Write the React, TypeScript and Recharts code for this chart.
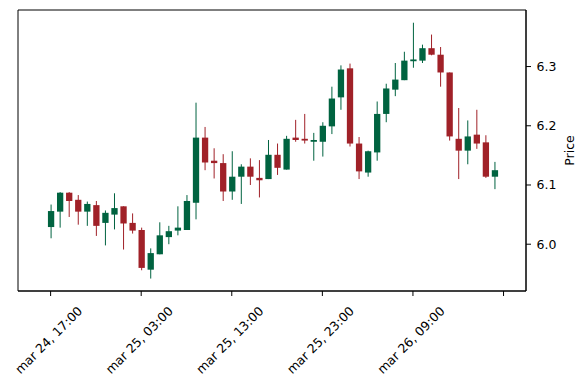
import React from 'react';
import { ComposedChart, Bar, XAxis, YAxis, ReferenceArea } from 'recharts';

// hourly candles, starting mar 24 17:00
const opens = [
  6.029, 6.055, 6.087, 6.075, 6.055, 6.066, 6.036, 6.050, 6.064, 6.036,
  6.024, 5.957, 5.983, 6.012, 6.023, 6.024, 6.070, 6.180, 6.141, 6.137,
  6.089, 6.114, 6.131, 6.112, 6.110, 6.151, 6.126, 6.180, 6.178, 6.173,
  6.173, 6.199, 6.248, 6.297, 6.170, 6.121, 6.155, 6.220, 6.261, 6.277,
  6.309, 6.310, 6.331, 6.320, 6.290, 6.178, 6.158, 6.185, 6.172, 6.114,
];
const highs = [
  6.067, 6.088, 6.088, 6.083, 6.072, 6.073, 6.057, 6.086, 6.064, 6.052,
  6.028, 5.993, 6.037, 6.031, 6.064, 6.083, 6.239, 6.198, 6.162, 6.152,
  6.157, 6.135, 6.145, 6.142, 6.176, 6.170, 6.183, 6.210, 6.220, 6.188,
  6.206, 6.266, 6.302, 6.305, 6.181, 6.158, 6.241, 6.271, 6.306, 6.325,
  6.374, 6.337, 6.354, 6.333, 6.290, 6.230, 6.209, 6.227, 6.184, 6.139,
];
const lows = [
  6.010, 6.028, 6.046, 6.033, 6.031, 6.014, 5.998, 6.025, 5.991, 6.018,
  5.956, 5.942, 5.983, 6.000, 6.015, 6.024, 6.042, 6.125, 6.111, 6.073,
  6.075, 6.068, 6.100, 6.079, 6.110, 6.117, 6.126, 6.173, 6.170, 6.141,
  6.148, 6.186, 6.227, 6.165, 6.110, 6.114, 6.141, 6.206, 6.250, 6.277,
  6.298, 6.306, 6.319, 6.266, 6.175, 6.110, 6.135, 6.161, 6.112, 6.093,
];
const closes = [
  6.056, 6.087, 6.073, 6.055, 6.068, 6.031, 6.053, 6.061, 6.035, 6.023,
  5.960, 5.985, 6.015, 6.022, 6.028, 6.073, 6.180, 6.138, 6.137, 6.089,
  6.114, 6.131, 6.114, 6.108, 6.151, 6.129, 6.178, 6.176, 6.175, 6.176,
  6.200, 6.246, 6.295, 6.170, 6.123, 6.157, 6.220, 6.263, 6.278, 6.310,
  6.312, 6.331, 6.320, 6.290, 6.182, 6.158, 6.182, 6.170, 6.114, 6.125,
];

const tickIndexes = [0, 10, 20, 30, 40, 50];
const tickLabels = ['mar 24, 17:00', 'mar 25, 03:00', 'mar 25, 13:00', 'mar 25, 23:00', 'mar 26, 09:00', ''];
const priceTicks = [6.0, 6.1, 6.2, 6.3];

const UP = '#006340';
const DOWN = '#A02128';
const FONT = '"DejaVu Sans", sans-serif';

const data = opens.map((o, i) => ({
  idx: i,
  open: o,
  high: highs[i],
  low: lows[i],
  close: closes[i],
}));

const Candle = (props: any) => {
  const { x, y, width, height, payload } = props;
  const { open, close, high, low } = payload;
  const top = Math.min(y, y + height);
  const h = Math.abs(height);
  const k = h / (high - low);
  const py = (p: number) => top + (high - p) * k;
  const color = close >= open ? UP : DOWN;
  const cx = x + width / 2;
  const bTop = py(Math.max(open, close));
  const bBot = py(Math.min(open, close));
  return (
    <g>
      <line x1={cx} x2={cx} y1={top} y2={top + h} stroke={color} strokeWidth={1} />
      <rect x={cx - 3.15} y={bTop} width={6.3} height={Math.max(bBot - bTop, 1)} fill={color} />
    </g>
  );
};

const XTick = (props: any) => {
  const { x, y, payload } = props;
  const label = tickLabels[tickIndexes.indexOf(payload.value)];
  if (!label) return null;
  const cx = x - 2;
  const cy = y + 42;
  return (
    <text
      x={cx}
      y={cy}
      transform={`rotate(-45 ${cx} ${cy})`}
      textAnchor="middle"
      dominantBaseline="central"
      fill="#000"
      fontSize={12.5}
      fontFamily={FONT}
    >
      {label}
    </text>
  );
};

const PriceLabel = (props: any) => {
  const { viewBox } = props;
  const cx = viewBox.x + 43.5;
  const cy = viewBox.y + viewBox.height / 2;
  return (
    <text
      x={cx}
      y={cy}
      transform={`rotate(-90 ${cx} ${cy})`}
      textAnchor="middle"
      dominantBaseline="central"
      fill="#000"
      fontSize={12.5}
      fontFamily={FONT}
    >
      Price
    </text>
  );
};

export default function App() {
  return (
    <div style={{ position: 'absolute', left: 0, top: 0, width: 587, height: 390, background: '#fff' }}>
      <ComposedChart
        width={587}
        height={390}
        data={data}
        margin={{ top: 10, right: 16, left: 18, bottom: 10 }}
      >
        <XAxis
          dataKey="idx"
          type="number"
          domain={[-3.6, 52.48]}
          ticks={tickIndexes}
          allowDataOverflow
          interval={0}
          height={89}
          tick={<XTick />}
          tickSize={5}
          axisLine={{ stroke: '#000' }}
          tickLine={{ stroke: '#000' }}
        />
        <YAxis
          orientation="right"
          type="number"
          domain={[5.921, 6.3955]}
          ticks={priceTicks}
          allowDataOverflow
          width={45}
          tickSize={5}
          tickMargin={5.5}
          tickFormatter={(v: number) => v.toFixed(1)}
          tick={{ fill: '#000', fontSize: 12.5, fontFamily: FONT }}
          axisLine={{ stroke: '#000' }}
          tickLine={{ stroke: '#000' }}
          label={<PriceLabel />}
        />
        <ReferenceArea
          x1={-3.6}
          x2={52.48}
          y1={5.921}
          y2={6.3955}
          fill="none"
          stroke="#000"
          strokeWidth={1}
          ifOverflow="visible"
        />
        <Bar
          dataKey={(d: any) => [d.low, d.high]}
          barSize={6}
          shape={<Candle />}
          isAnimationActive={false}
        />
      </ComposedChart>
    </div>
  );
}
